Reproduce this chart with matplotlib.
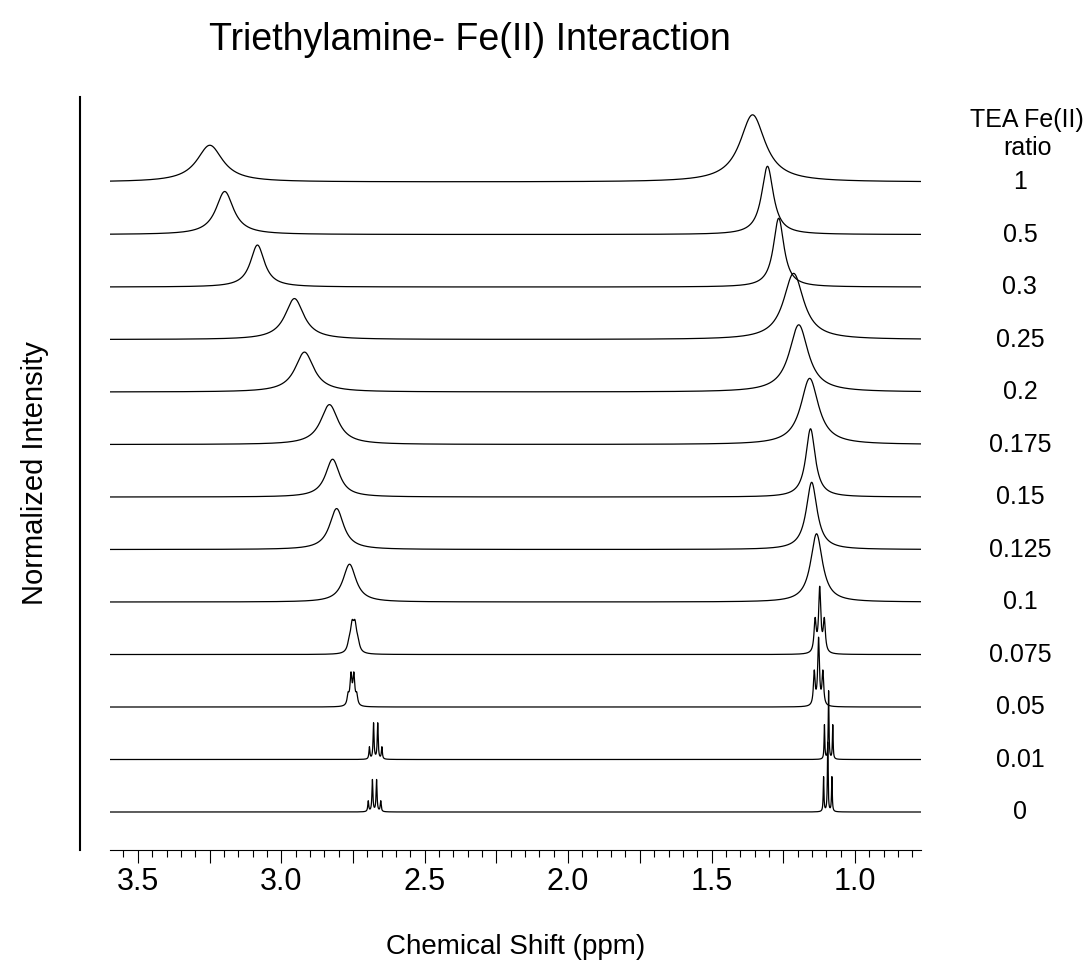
import numpy as np
import matplotlib
matplotlib.use('Agg')
import matplotlib.pyplot as plt
import matplotlib.transforms as mtransforms
from matplotlib.ticker import MultipleLocator, FuncFormatter

plt.rcParams['font.family'] = ['Liberation Sans', 'DejaVu Sans']

# TEA : Fe(II) ratio for each trace, top to bottom
ratios = ['1', '0.5', '0.3', '0.25', '0.2', '0.175', '0.15', '0.125',
          '0.1', '0.075', '0.05', '0.01', '0']

# CH2 signal (quartet, broadened at high ratio)
ch2_shift = [3.249, 3.197, 3.083, 2.954, 2.919, 2.832, 2.821, 2.807,
             2.762, 2.748, 2.752, 2.671, 2.675]
ch2_height = [0.70, 0.82, 0.80, 0.78, 0.76, 0.76, 0.72, 0.78,
              0.72, 0.67, 0.67, 0.70, 0.62]
ch2_width = [0.110, 0.075, 0.060, 0.080, 0.080, 0.075, 0.060, 0.060,
             0.055, 0.014, 0.008, 0.004, 0.004]
ch2_J = [0, 0, 0, 0, 0, 0, 0, 0, 0, 0.010, 0.010, 0.0145, 0.0145]

# CH3 signal (triplet, broadened at high ratio)
ch3_shift = [1.357, 1.305, 1.266, 1.214, 1.196, 1.158, 1.155, 1.151,
             1.134, 1.123, 1.127, 1.092, 1.095]
ch3_height = [1.28, 1.30, 1.31, 1.26, 1.28, 1.26, 1.30, 1.28,
              1.30, 1.30, 1.33, 1.31, 1.33]
ch3_width = [0.107, 0.050, 0.045, 0.085, 0.080, 0.075, 0.040, 0.046,
             0.050, 0.009, 0.007, 0.003, 0.003]
ch3_J = [0, 0, 0, 0, 0, 0, 0, 0, 0, 0.016, 0.015, 0.0145, 0.0145]

x = np.linspace(3.597, 0.77, 30000)


def lorentz(x, c, w):
    return 1.0 / (1.0 + ((x - c) / (w / 2.0)) ** 2)


def multiplet(x, c, h, w, J, weights):
    n = len(weights)
    pos = c + J * (np.arange(n) - (n - 1) / 2.0)
    y = sum(wt * lorentz(x, p, w) for wt, p in zip(weights, pos))
    return h * y / y.max()


fig = plt.figure(figsize=(10.89, 9.72), dpi=100)
ax = fig.add_axes([0.101, 0.1255, 0.7447, 0.7747])

n = len(ratios)
for i in range(n):
    offset = n - 1 - i
    q = [1, 3, 3, 1] if ch2_J[i] > 0 else [1]
    t = [1, 2, 1] if ch3_J[i] > 0 else [1]
    y = multiplet(x, ch2_shift[i], ch2_height[i], ch2_width[i], ch2_J[i], q)
    y = y + multiplet(x, ch3_shift[i], ch3_height[i], ch3_width[i], ch3_J[i], t)
    ax.plot(x, y + offset, color='black', lw=0.9)

trans = mtransforms.blended_transform_factory(ax.transAxes, ax.transData)
for i, r in enumerate(ratios):
    ax.text(1.122, n - 1 - i, r, transform=trans, ha='center', va='center',
            fontsize=18)
ax.text(1.131, 12.92, 'TEA Fe(II)\nratio', transform=trans, ha='center',
        va='center', fontsize=18, linespacing=1.2)

ax.set_xlim(3.597, 0.77)
ax.set_ylim(-0.724, 13.62)

ax.spines['top'].set_visible(False)
ax.spines['right'].set_visible(False)
ax.spines['left'].set_position(('outward', 21.6))
ax.spines['left'].set_linewidth(1.5)
ax.spines['bottom'].set_linewidth(0.8)
ax.set_yticks([])

ax.xaxis.set_major_locator(MultipleLocator(0.25))
ax.xaxis.set_minor_locator(MultipleLocator(0.05))
ax.xaxis.set_major_formatter(FuncFormatter(
    lambda v, p: f'{v:.1f}' if abs(v * 2 - round(v * 2)) < 1e-6 else ''))
ax.tick_params(axis='x', which='major', length=9, width=0.8, labelsize=22, pad=3)
ax.tick_params(axis='x', which='minor', length=5, width=0.8)

ax.set_xlabel('Chemical Shift (ppm)', fontsize=20, labelpad=27)
ax.set_ylabel('Normalized Intensity', fontsize=21, labelpad=22)
fig.text(0.4316, 0.9588, 'Triethylamine- Fe(II) Interaction', ha='center',
         va='center', fontsize=27)

fig.savefig('out.png', dpi=100)
